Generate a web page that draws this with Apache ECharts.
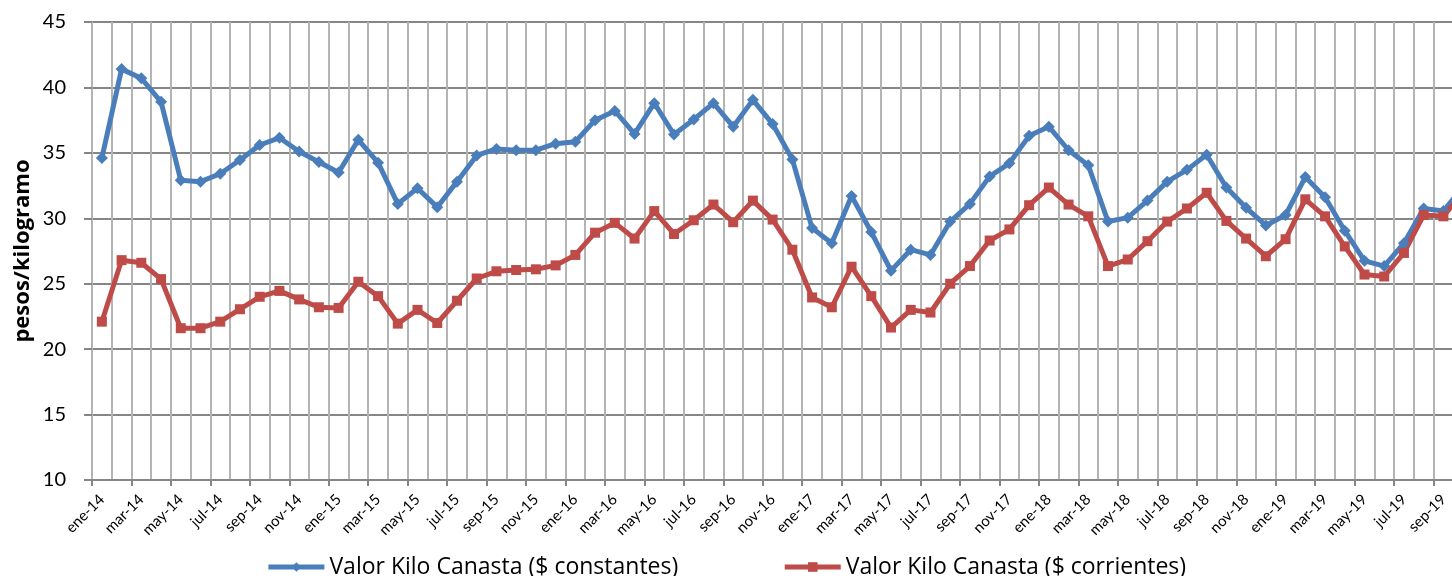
<!DOCTYPE html>
<html>
<head>
<meta charset="utf-8">
<script src="https://cdn.jsdelivr.net/npm/echarts@6/dist/echarts.min.js"></script>
<style>
html,body{margin:0;padding:0;background:#fff;}
#chart{width:1452px;height:576px;}
</style>
</head>
<body>
<div id="chart"></div>
<script>
const categories = [
 'ene-14','feb-14','mar-14','abr-14','may-14','jun-14','jul-14','ago-14','sep-14','oct-14','nov-14','dic-14',
 'ene-15','feb-15','mar-15','abr-15','may-15','jun-15','jul-15','ago-15','sep-15','oct-15','nov-15','dic-15',
 'ene-16','feb-16','mar-16','abr-16','may-16','jun-16','jul-16','ago-16','sep-16','oct-16','nov-16','dic-16',
 'ene-17','feb-17','mar-17','abr-17','may-17','jun-17','jul-17','ago-17','sep-17','oct-17','nov-17','dic-17',
 'ene-18','feb-18','mar-18','abr-18','may-18','jun-18','jul-18','ago-18','sep-18','oct-18','nov-18','dic-18',
 'ene-19','feb-19','mar-19','abr-19','may-19','jun-19','jul-19','ago-19','sep-19','oct-19'
];
const constantes = [
 34.6, 41.4, 40.7, 38.9, 32.9, 32.8, 33.4, 34.45, 35.6, 36.15,
 35.1, 34.3, 33.5, 36.0, 34.25, 31.1, 32.3, 30.85, 32.8, 34.8,
 35.3, 35.2, 35.2, 35.7, 35.85, 37.5, 38.2, 36.45, 38.8, 36.4,
 37.55, 38.8, 37.0, 39.05, 37.2, 34.5, 29.25, 28.1, 31.7, 28.95,
 26.0, 27.6, 27.2, 29.75, 31.1, 33.2, 34.2, 36.3, 37.0, 35.2,
 34.05, 29.75, 30.05, 31.35, 32.8, 33.7, 34.85, 32.35, 30.8, 29.45,
 30.25, 33.15, 31.6, 29.05, 26.75, 26.35, 28.1, 30.75, 30.55, 32.4
];
const corrientes = [
 22.1, 26.8, 26.6, 25.35, 21.6, 21.6, 22.1, 23.05, 24.0, 24.45,
 23.8, 23.2, 23.15, 25.15, 24.05, 21.95, 23.0, 22.0, 23.7, 25.4,
 25.95, 26.05, 26.1, 26.4, 27.2, 28.9, 29.65, 28.45, 30.55, 28.8,
 29.85, 31.05, 29.7, 31.35, 29.9, 27.6, 23.95, 23.2, 26.3, 24.05,
 21.65, 23.0, 22.8, 25.0, 26.35, 28.3, 29.15, 31.0, 32.35, 31.05,
 30.15, 26.35, 26.85, 28.25, 29.75, 30.75, 31.95, 29.8, 28.45, 27.1,
 28.4, 31.45, 30.15, 27.85, 25.7, 25.55, 27.35, 30.25, 30.15, 32.0
];
const seriesNames = ['Valor Kilo Canasta ($ constantes)', 'Valor Kilo Canasta ($ corrientes)'];
const yAxisTitle = 'pesos/kilogramo';

const FONT = 'Lato, "Open Sans", sans-serif';
const FONT2 = '"Open Sans", Lato, sans-serif';
const chart = echarts.init(document.getElementById('chart'), null, {renderer: 'canvas'});
chart.setOption({
  animation: false,
  backgroundColor: '#ffffff',
  textStyle: {fontFamily: FONT, color: '#000'},
  grid: {left: 92, right: -21, top: 22, bottom: 96, containLabel: false, outerBoundsMode: 'none'},
  graphic: [{
    type: 'text',
    x: 22.5, y: 251,
    rotation: Math.PI / 2,
    style: {
      text: yAxisTitle,
      font: 'bold 22px ' + FONT2,
      fill: '#000',
      align: 'center',
      verticalAlign: 'middle'
    }
  }],
  legend: {
    top: 548,
    left: 'center',
    itemGap: 104,
    itemWidth: 56,
    itemHeight: 12,
    lineStyle: {width: 5},
    textStyle: {fontFamily: FONT2, fontSize: 23, lineHeight: 28, color: '#000'},
    data: seriesNames
  },
  xAxis: {
    type: 'category',
    data: categories,
    boundaryGap: true,
    axisLine: {show: true, lineStyle: {color: '#868686', width: 2}},
    axisTick: {show: true, interval: 1, length: 6, lineStyle: {color: '#868686', width: 2}},
    axisLabel: {interval: 1, rotate: 45, fontSize: 15, color: '#000', fontFamily: FONT, margin: 17},
    splitLine: {show: true, interval: 0, lineStyle: {color: '#b4b4b4', width: 2}}
  },
  yAxis: {
    type: 'value',
    min: 10, max: 45, interval: 5,
    axisLine: {show: true, lineStyle: {color: '#b4b4b4', width: 2}},
    axisTick: {show: true, inside: false, length: 8, lineStyle: {color: '#868686', width: 2}},
    axisLabel: {fontSize: 20, color: '#000', fontFamily: FONT, margin: 26},
    splitLine: {show: true, lineStyle: {color: '#868686', width: 2}}
  },
  series: [
    {
      name: seriesNames[0], type: 'line', data: constantes,
      symbol: 'diamond', symbolSize: 12, showAllSymbol: true,
      lineStyle: {color: '#4a7ebb', width: 5},
      itemStyle: {color: '#4a7ebb'}
    },
    {
      name: seriesNames[1], type: 'line', data: corrientes,
      symbol: 'rect', symbolSize: 10, showAllSymbol: true,
      lineStyle: {color: '#be4b48', width: 5},
      itemStyle: {color: '#be4b48'}
    }
  ]
});
</script>
</body>
</html>
